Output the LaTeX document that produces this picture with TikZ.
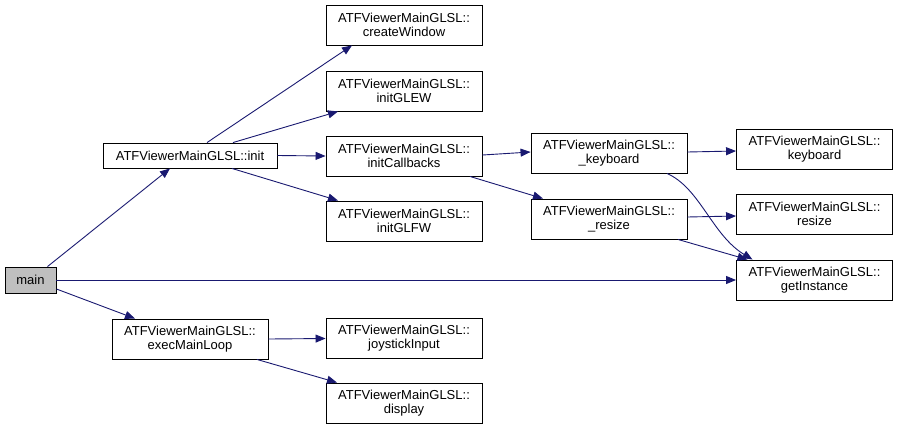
\documentclass[tikz,border=0pt]{standalone}
\usepackage{fontspec}
\setmainfont{Liberation Sans}
\usetikzlibrary{arrows.meta}
\definecolor{edgecol}{HTML}{191970}
\definecolor{mainfill}{HTML}{BFBFBF}
\begin{document}
\begin{tikzpicture}[x=1pt,y=-1pt,
  fn/.style={draw=black, line width=0.9pt, minimum width=156pt, minimum height=40pt,
             inner sep=0pt, align=center, font=\fontsize{13}{14}\selectfont},
  call/.style={draw=edgecol, line width=0.9pt, -{Triangle[length=10pt,width=8pt]}}]
\useasboundingbox (0,0) rectangle (899,429);

\node[fn, fill=mainfill, minimum width=51pt, minimum height=26pt] (main) at (30.5,280) {main};
\node[fn, minimum width=174pt, minimum height=25pt] (init) at (190,155.5) {ATFViewerMainGLSL::init};
\node[fn] (exec) at (190,339) {ATFViewerMainGLSL::\\execMainLoop};
\node[fn] (cw) at (404,25) {ATFViewerMainGLSL::\\createWindow};
\node[fn] (glew) at (404,91) {ATFViewerMainGLSL::\\initGLEW};
\node[fn] (icb) at (404,156) {ATFViewerMainGLSL::\\initCallbacks};
\node[fn] (glfw) at (404,221) {ATFViewerMainGLSL::\\initGLFW};
\node[fn] (joy) at (404,338.5) {ATFViewerMainGLSL::\\joystickInput};
\node[fn] (disp) at (404,403) {ATFViewerMainGLSL::\\display};
\node[fn] (ukb) at (609,153) {ATFViewerMainGLSL::\\\_keyboard};
\node[fn] (urs) at (609,219) {ATFViewerMainGLSL::\\\_resize};
\node[fn] (kb) at (814.5,149) {ATFViewerMainGLSL::\\keyboard};
\node[fn] (rs) at (814.5,214) {ATFViewerMainGLSL::\\resize};
\node[fn] (gi) at (814.5,280) {ATFViewerMainGLSL::\\getInstance};

\draw[call] ([xshift=17pt]main.north) -- ([xshift=-20pt]init.south);
\draw[call] (main.east) -- (gi.west);
\draw[call] ([yshift=-9pt]main.east) -- ([xshift=-55pt]exec.north);
\draw[call] ([xshift=17pt]init.north) -- ([xshift=-52pt]cw.south);
\draw[call] ([xshift=43pt]init.north) -- ([xshift=-66pt]glew.south);
\draw[call] (init.east) -- (icb.west);
\draw[call] ([xshift=42pt]init.south) -- ([xshift=-66pt]glfw.north);
\draw[call] ([yshift=1pt]icb.east) -- ([yshift=1pt]ukb.west);
\draw[call] ([xshift=66pt]icb.south) -- ([xshift=-66pt]urs.north);
\draw[call] ([yshift=1pt]ukb.east) -- ([yshift=-2pt]kb.west);
\draw[call] ([xshift=58pt]ukb.south) .. controls (700,188) and (712,235) .. ([xshift=-62pt]gi.north);
\draw[call] ([yshift=2pt]urs.east) -- ([yshift=-2pt]rs.west);
\draw[call] ([xshift=69pt]urs.south) -- ([xshift=-67pt]gi.north);
\draw[call] (exec.east) -- (joy.west);
\draw[call] ([xshift=67pt]exec.south) -- ([xshift=-67pt]disp.north);
\end{tikzpicture}
\end{document}
